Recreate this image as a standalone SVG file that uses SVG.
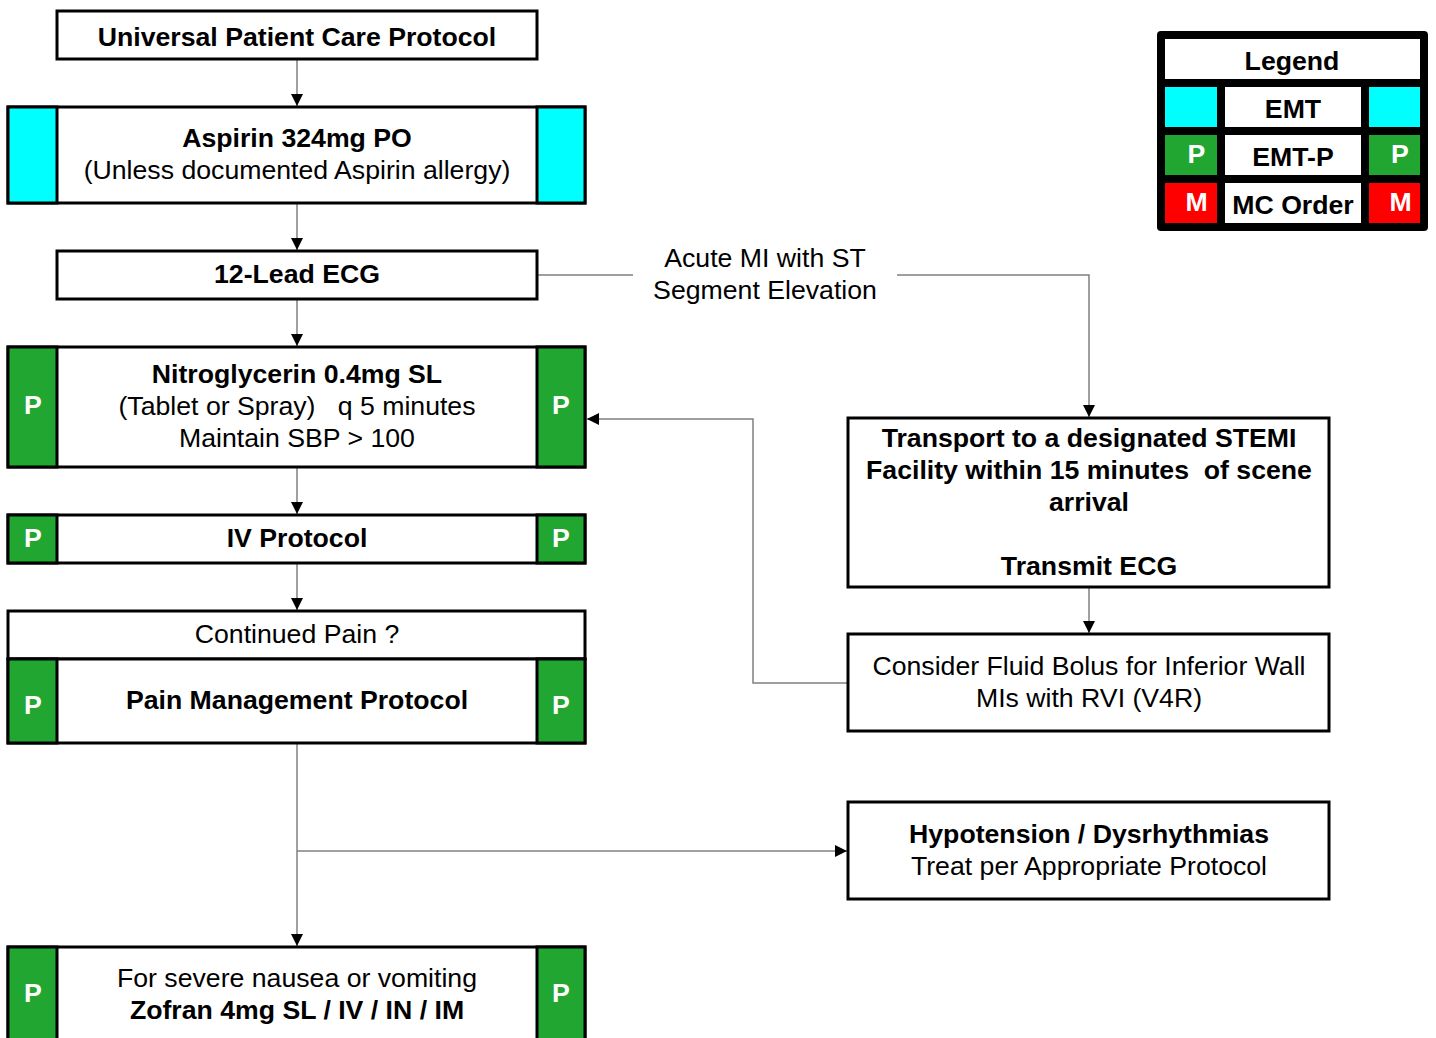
<svg xmlns="http://www.w3.org/2000/svg" width="1436" height="1038" viewBox="0 0 1436 1038">
<style>
text{font-family:"Liberation Sans",Arial,sans-serif;font-size:26.67px;fill:#000;text-anchor:middle}
.b{font-weight:bold}
.w{fill:#fff;font-weight:bold}
.box{fill:#fff;stroke:#000;stroke-width:3}
.cy{fill:#00ffff;stroke:#000;stroke-width:3}
.gr{fill:#21a631;stroke:#000;stroke-width:3}
.rd{fill:#ff0000}
.c{fill:none;stroke:#808080;stroke-width:1.5}
</style>
<defs>
<marker id="ah" viewBox="0 0 10 10" refX="10" refY="5" markerWidth="12" markerHeight="12" markerUnits="userSpaceOnUse" orient="auto">
<path d="M0,0 L10,5 L0,10 Z" fill="#000"/>
</marker>
</defs>
<g id="connectors">
<path class="c" d="M297,59 V106" marker-end="url(#ah)"/>
<path class="c" d="M297,203 V250" marker-end="url(#ah)"/>
<path class="c" d="M297,299 V346" marker-end="url(#ah)"/>
<path class="c" d="M297,467 V514" marker-end="url(#ah)"/>
<path class="c" d="M297,563 V610" marker-end="url(#ah)"/>
<path class="c" d="M297,743 V946" marker-end="url(#ah)"/>
<path class="c" d="M297,851 H847" marker-end="url(#ah)"/>
<path class="c" d="M537,275 H633 M897,275 H1089 V417" marker-end="url(#ah)"/>
<path class="c" d="M1089,587 V633" marker-end="url(#ah)"/>
<path class="c" d="M848,683 H753 V419 H587" marker-end="url(#ah)"/>
<text x="765" y="266.5">Acute MI with ST</text>
<text x="765" y="298.5">Segment Elevation</text>
</g>
<g id="universal">
<rect class="box" x="57" y="11" width="480" height="48"/>
<text class="b" x="297" y="45.5">Universal Patient Care Protocol</text>
</g>
<g id="aspirin">
<rect class="box" x="8" y="107" width="577" height="96"/>
<rect class="cy" x="8" y="107" width="49" height="96"/>
<rect class="cy" x="537" y="107" width="48" height="96"/>
<text class="b" x="297" y="146.5">Aspirin 324mg PO</text>
<text x="297" y="178.5">(Unless documented Aspirin allergy)</text>
</g>
<g id="ecg">
<rect class="box" x="57" y="251" width="480" height="48"/>
<text class="b" x="297" y="282.5">12-Lead ECG</text>
</g>
<g id="nitro">
<rect class="box" x="8" y="347" width="577" height="120"/>
<rect class="gr" x="8" y="347" width="49" height="120"/>
<rect class="gr" x="537" y="347" width="48" height="120"/>
<text class="w" x="33" y="413.5">P</text>
<text class="w" x="561" y="413.5">P</text>
<text class="b" x="297" y="382.5">Nitroglycerin 0.4mg SL</text>
<text x="297" y="414.5" xml:space="preserve">(Tablet or Spray)   q 5 minutes</text>
<text x="297" y="446.5">Maintain SBP &gt; 100</text>
</g>
<g id="iv">
<rect class="box" x="8" y="515" width="577" height="48"/>
<rect class="gr" x="8" y="515" width="49" height="48"/>
<rect class="gr" x="537" y="515" width="48" height="48"/>
<text class="w" x="33" y="546.5">P</text>
<text class="w" x="561" y="546.5">P</text>
<text class="b" x="297" y="546.5">IV Protocol</text>
</g>
<g id="pain">
<rect class="box" x="8" y="611" width="577" height="48"/>
<text x="297" y="642.5">Continued Pain ?</text>
<rect class="box" x="8" y="659" width="577" height="84"/>
<rect class="gr" x="8" y="659" width="49" height="84"/>
<rect class="gr" x="537" y="659" width="48" height="84"/>
<text class="w" x="33" y="713.5">P</text>
<text class="w" x="561" y="713.5">P</text>
<text class="b" x="297" y="708.5">Pain Management Protocol</text>
</g>
<g id="zofran">
<rect class="box" x="8" y="947" width="577" height="120"/>
<rect class="gr" x="8" y="947" width="49" height="120"/>
<rect class="gr" x="537" y="947" width="48" height="120"/>
<text class="w" x="33" y="1001.5">P</text>
<text class="w" x="561" y="1001.5">P</text>
<text x="297" y="986.5">For severe nausea or vomiting</text>
<text class="b" x="297" y="1018.5">Zofran 4mg SL / IV / IN / IM</text>
</g>
<g id="transport">
<rect class="box" x="848" y="418" width="481" height="169"/>
<text class="b" x="1089" y="446.5">Transport to a designated STEMI</text>
<text class="b" x="1089" y="478.5" xml:space="preserve">Facility within 15 minutes  of scene</text>
<text class="b" x="1089" y="510.5">arrival</text>
<text class="b" x="1089" y="574.5">Transmit ECG</text>
</g>
<g id="fluid">
<rect class="box" x="848" y="634" width="481" height="97"/>
<text x="1089" y="674.5">Consider Fluid Bolus for Inferior Wall</text>
<text x="1089" y="706.5">MIs with RVI (V4R)</text>
</g>
<g id="hypotension">
<rect class="box" x="848" y="802" width="481" height="97"/>
<text class="b" x="1089" y="842.5">Hypotension / Dysrhythmias</text>
<text x="1089" y="874.5">Treat per Appropriate Protocol</text>
</g>
<g id="legend">
<rect x="1157" y="31" width="271" height="200" rx="4" fill="#000"/>
<rect x="1165" y="39" width="255" height="40" fill="#fff"/>
<text class="b" x="1292" y="69.5">Legend</text>
<rect x="1165" y="87" width="52" height="40" fill="#00ffff"/>
<rect x="1225" y="87" width="136" height="40" fill="#fff"/>
<rect x="1369" y="87" width="51" height="40" fill="#00ffff"/>
<text class="b" x="1293" y="117.5">EMT</text>
<rect x="1165" y="135" width="52" height="40" fill="#21a631"/>
<rect x="1225" y="135" width="136" height="40" fill="#fff"/>
<rect x="1369" y="135" width="51" height="40" fill="#21a631"/>
<text class="w" x="1196.5" y="163">P</text>
<text class="w" x="1400" y="163">P</text>
<text class="b" x="1293" y="165.5">EMT-P</text>
<rect x="1165" y="183" width="52" height="40" class="rd"/>
<rect x="1225" y="183" width="136" height="40" fill="#fff"/>
<rect x="1369" y="183" width="51" height="40" class="rd"/>
<text class="w" x="1196.5" y="211">M</text>
<text class="w" x="1400.5" y="211">M</text>
<text class="b" x="1293" y="213.5">MC Order</text>
</g>
</svg>
